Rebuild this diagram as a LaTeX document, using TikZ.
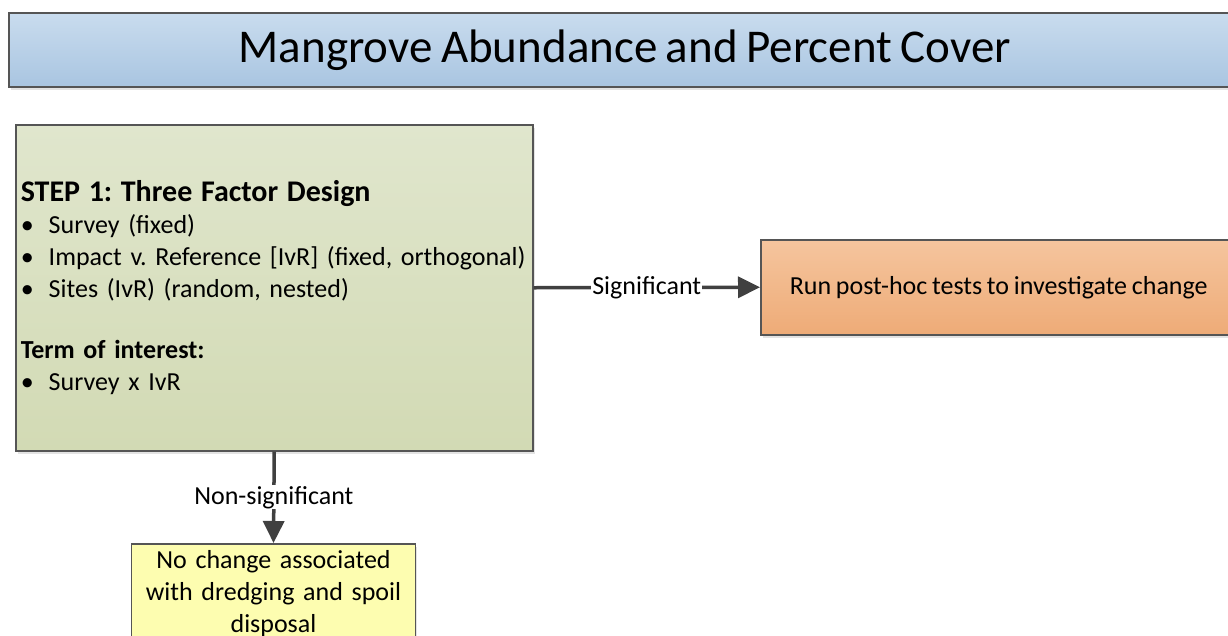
\documentclass[tikz,border=0pt]{standalone}
\usepackage{fontspec}
\setmainfont{Carlito}[WordSpace=0.8]
\usetikzlibrary{arrows.meta,shadows}

\definecolor{boxline}{HTML}{555555}
\definecolor{arrowgray}{HTML}{404040}
\definecolor{titletop}{HTML}{C9DCEE}
\definecolor{titlebot}{HTML}{A9C5E1}
\definecolor{greentop}{HTML}{E0E6CD}
\definecolor{greenbot}{HTML}{D2DAB4}
\definecolor{orangetop}{HTML}{F5C59E}
\definecolor{orangebot}{HTML}{EEAB77}
\definecolor{notefill}{HTML}{FDFDB0}

\newcommand{\bul}{\makebox[28pt][l]{\textbullet}}
\frenchspacing

\tikzset{
  box/.style={draw=boxline, line width=1.5pt,
    drop shadow={shadow xshift=2pt, shadow yshift=-3pt, fill=black!22}},
  flow/.style={draw=arrowgray, line width=3.5pt,
    -{Triangle[length=22pt,width=21pt]}},
  cond/.style={fill=white, inner sep=1pt, font=\fontsize{26}{30}\selectfont}
}

\begin{document}
\begin{tikzpicture}[x=1pt, y=-1pt]
  \useasboundingbox (0,0) rectangle (1228,635);
  \clip (0,0) rectangle (1228,635);

  % header bar
  \node[box, top color=titletop, bottom color=titlebot, anchor=north west,
    minimum width=1232pt, minimum height=74pt,
    font=\fontsize{47}{50}\selectfont] (title) at (8,12)
    {Mangrove Abundance and Percent Cover};

  % anova step
  \node[box, top color=greentop, bottom color=greenbot, anchor=north west,
    text width=507pt, inner xsep=5pt, minimum height=326pt, align=left,
    font=\fontsize{26}{32}\selectfont] (step1) at (15,124)
    {{\fontsize{30}{34}\selectfont\bfseries STEP 1: Three Factor Design}\\
     \bul Survey (fixed)\\
     \bul Impact v. Reference [IvR] (fixed, orthogonal)\\
     \bul Sites (IvR) (random, nested)\\[29pt]
     {\bfseries Term of interest:}\\
     \bul Survey x IvR};

  % outcomes
  \node[box, top color=orangetop, bottom color=orangebot, anchor=north west,
    minimum width=476pt, minimum height=95pt,
    font=\fontsize{26}{32}\selectfont] (posthoc) at (760,239)
    {Run post-hoc tests to investigate change};

  \node[box, fill=notefill, anchor=north, text width=277pt, align=center,
    minimum height=100pt, inner ysep=2pt,
    font=\fontsize{26}{32}\selectfont] (nochange) at (273.5,543)
    {No change associated\\ with dredging and spoil\\ disposal};

  \draw[flow] (step1.east) -- node[cond] {Significant} (posthoc.west);
  \draw[flow] (step1.south) -- node[cond] {Non-significant} (nochange.north);
\end{tikzpicture}
\end{document}
